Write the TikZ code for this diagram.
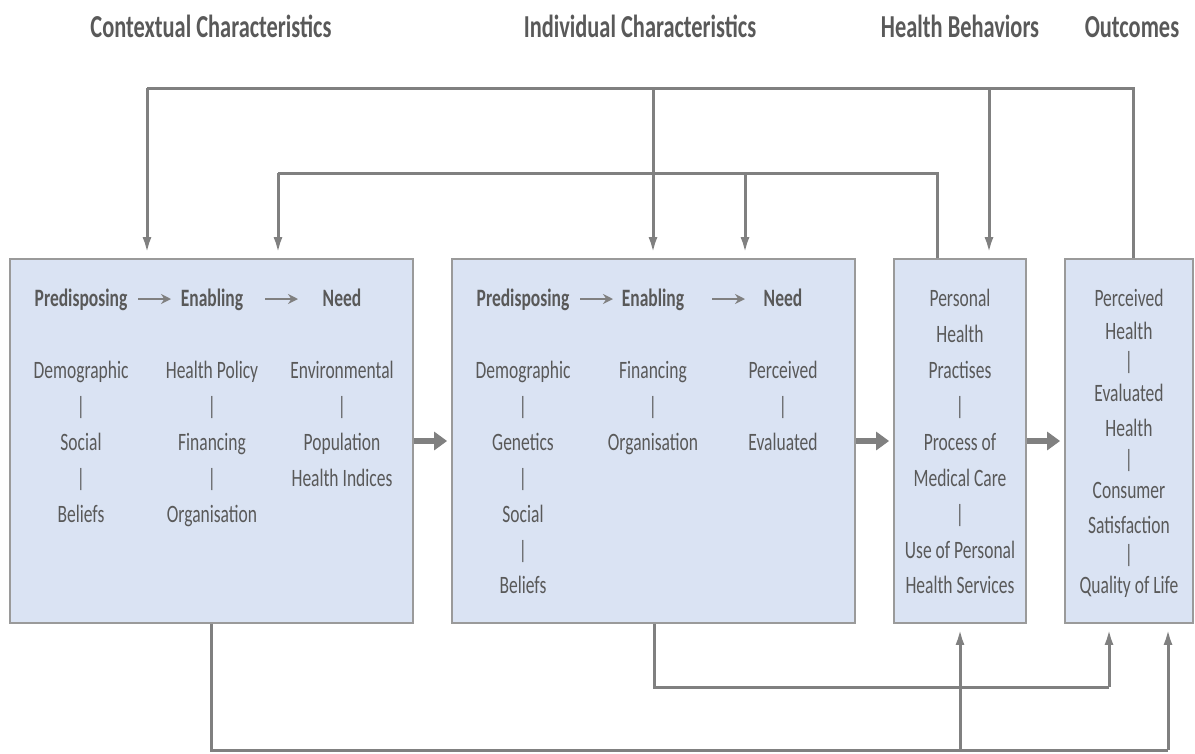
\documentclass[tikz,border=0pt]{standalone}
\usepackage{fontspec}
\setmainfont{Carlito}[FakeStretch=0.7]
\usetikzlibrary{arrows.meta,calc}
\definecolor{boxfill}{HTML}{DAE3F3}
\definecolor{boxline}{HTML}{9A9A9A}
\definecolor{txtc}{HTML}{595959}
\definecolor{linec}{HTML}{808080}
\begin{document}
\begin{tikzpicture}[x=1pt,y=-1pt,
  box/.style={draw=boxline, line width=1.8pt, fill=boxfill, inner sep=0pt},
  conn/.style={draw=linec, line width=3pt},
  arr/.style={conn, -{Latex[length=16pt,width=9pt]}, shorten >=5pt},
  fat/.style={draw=linec, line width=6pt, -{Triangle[length=13pt,width=18pt]}, shorten >=4pt},
  smallarr/.style={draw=linec, line width=2.4pt, -{Stealth[length=10pt,width=10pt]}},
  txt/.style={text=txtc, anchor=mid, inner sep=0pt, yshift=-6pt, font=\fontsize{25}{30}\selectfont},
  hd/.style={text=txtc, anchor=mid, inner sep=0pt, yshift=-8pt, font=\fontsize{32}{38}\selectfont\bfseries},
  sub/.style={txt, font=\fontsize{25}{30}\selectfont\bfseries}]
\useasboundingbox (0,0) rectangle (1195,753);

% headers
\node[hd] (hA) at (211,27) {Contextual Characteristics};
\node[hd] (hB) at (640,27) {Individual Characteristics};
\node[hd] (hC) at (960,27) {Health Behaviors};
\node[hd] (hD) at (1132,27) {Outcomes};

% boxes
\node[box, minimum width=403pt, minimum height=364pt] (box1) at (211.5,441) {};
\node[box, minimum width=403pt, minimum height=364pt] (box2) at (653.5,441) {};
\node[box, minimum width=132pt, minimum height=364pt] (box3) at (960,441) {};
\node[box, minimum width=128pt, minimum height=364pt] (box4) at (1129,441) {};

% box 1 header row
\node[sub] (p1) at (81,298) {Predisposing};
\node[sub] (e1) at (212,298) {Enabling};
\node[sub] (n1) at (342,298) {Need};
\coordinate (a1s) at (138,299); \coordinate (a1e) at (171,299);
\coordinate (a2s) at (265,299); \coordinate (a2e) at (298,299);
\draw[smallarr] (a1s) -- (a1e);
\draw[smallarr] (a2s) -- (a2e);

% box 2 header row
\node[sub] (p2) at (523,298) {Predisposing};
\node[sub] (e2) at (653,298) {Enabling};
\node[sub] (n2) at (783,298) {Need};
\coordinate (a3s) at (580,299); \coordinate (a3e) at (613,299);
\coordinate (a4s) at (712,299); \coordinate (a4e) at (745,299);
\draw[smallarr] (a3s) -- (a3e);
\draw[smallarr] (a4s) -- (a4e);

% box 1 columns
\foreach \x/\y/\t in {81/370/Demographic, 81/406/|, 81/442/Social, 81/478/|, 81/514/Beliefs,
  212/370/Health Policy, 212/406/|, 212/442/Financing, 212/478/|, 212/514/Organisation,
  342/370/Environmental, 342/406/|, 342/442/Population, 342/478/Health Indices}
  \node[txt] (ta-\x-\y) at (\x,\y) {\t};

% box 2 columns
\foreach \x/\y/\t in {523/370/Demographic, 523/406/|, 523/442/Genetics, 523/478/|, 523/514/Social, 523/550/|, 523/585/Beliefs,
  653/370/Financing, 653/406/|, 653/442/Organisation,
  783/370/Perceived, 783/406/|, 783/442/Evaluated}
  \node[txt] (tb-\x-\y) at (\x,\y) {\t};

% box 3
\foreach \y/\t in {298/Personal, 334/Health, 370/Practises, 406/|, 442/Process of, 478/Medical Care, 514/|, 550/Use of Personal, 585/Health Services}
  \node[txt] (tc-\y) at (960,\y) {\t};

% box 4
\foreach \y/\t in {298/Perceived, 331/Health, 361/|, 393/Evaluated, 428/Health, 459/|, 490/Consumer, 525/Satisfaction, 554/|, 585/Quality of Life}
  \node[txt] (td-\y) at (1129,\y) {\t};

% thick arrows between boxes
\draw[fat] (box1) -- (box2);
\draw[fat] (box2) -- (box3);
\draw[fat] (box3) -- (box4);

% top feedback line 1
\coordinate (h1R) at (1133,88);
\coordinate (h1L) at (147,88);
\coordinate (h1a) at (653,88);
\coordinate (h1b) at (989,88);
\draw[conn] (box4.north -| h1R) -- (h1R) -- (h1L);
\draw[arr] (h1L) -- (box1.north -| h1L);
\draw[arr] (h1a) -- (box2.north -| h1a);
\draw[arr] (h1b) -- (box3.north -| h1b);

% top feedback line 2
\coordinate (h2R) at (937,173);
\coordinate (h2L) at (278,173);
\coordinate (h2a) at (745,173);
\draw[conn] (box3.north -| h2R) -- (h2R) -- (h2L);
\draw[arr] (h2L) -- (box1.north -| h2L);
\draw[arr] (h2a) -- (box2.north -| h2a);

% bottom line 1
\coordinate (b1L) at (654,687);
\coordinate (b1R) at (1109,687);
\draw[conn] (box2.south -| b1L) -- (b1L) -- (b1R);
\draw[arr] (b1R) -- (box4.south -| b1R);

% bottom line 2
\coordinate (b2L) at (211,750);
\coordinate (b2R) at (1168,750);
\coordinate (b2a) at (960,750);
\draw[conn] (box1.south -| b2L) -- (b2L) -- (b2R);
\draw[arr] (b2R) -- (box4.south -| b2R);
\draw[arr] (b2a) -- (box3.south);
\end{tikzpicture}
\end{document}
